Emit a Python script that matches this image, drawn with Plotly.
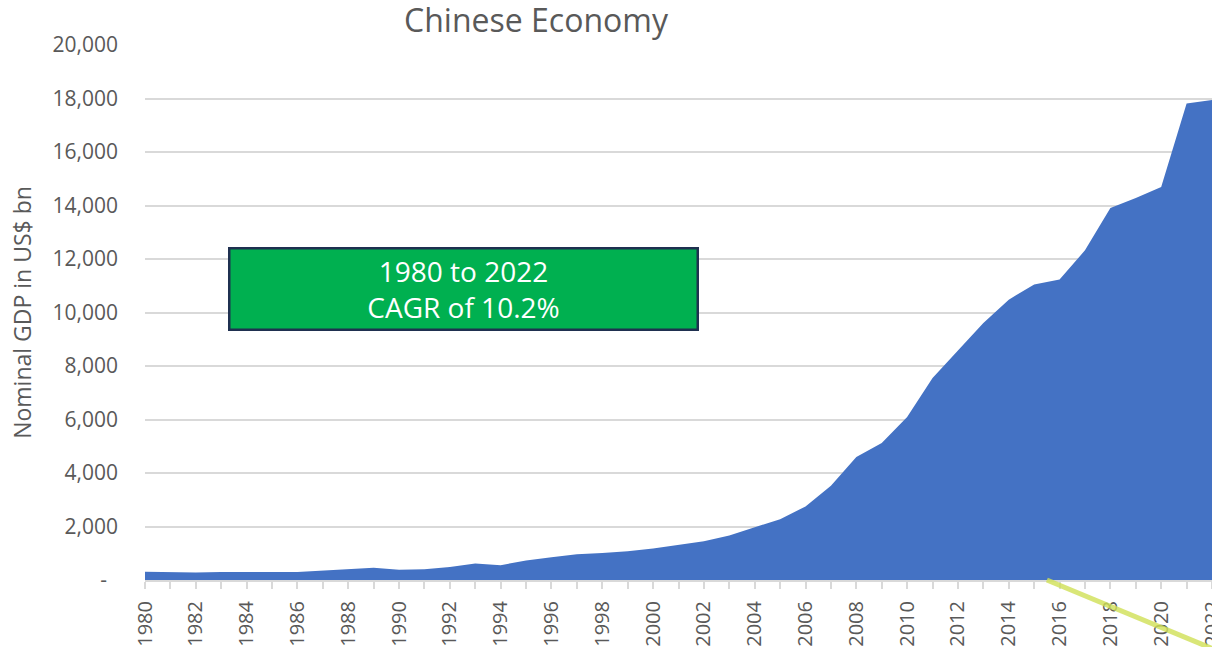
import plotly.graph_objects as go

# Nominal GDP, US$ bn
years = list(range(1980, 2023))
gdp = [306, 293, 280, 300, 310, 300, 295, 340, 404, 455,
       380, 400, 490, 615, 555, 730, 851, 963, 1012, 1075,
       1175, 1300, 1450, 1660, 1960, 2275, 2750, 3525, 4600, 5125,
       6090, 7550, 8580, 9605, 10480, 11050, 11230, 12325, 13910, 14285,
       14695, 17815, 17940]

y_ticks = list(range(0, 20001, 2000))
y_labels = ["-\u00a0\u00a0"] + [f"{v:,}" for v in y_ticks[1:]]

box_lines = ["1980 to 2022", "CAGR of 10.2%"]

# stray highlighter stroke crossing the lower-right corner
stroke_x = [2015.5, 2022.3]
stroke_y = [0.0, -0.134]

GREY = "#595959"
GRID = "#D9D9D9"
FONT = "Open Sans"

fig = go.Figure()
fig.add_trace(go.Scatter(
    x=years, y=gdp, mode="lines", fill="tozeroy",
    line=dict(color="#4472C4", width=0), fillcolor="#4472C4",
    hoverinfo="x+y", showlegend=False,
))

fig.add_shape(
    type="line", xref="x", yref="paper",
    x0=stroke_x[0], y0=stroke_y[0], x1=stroke_x[1], y1=stroke_y[1],
    line=dict(color="rgba(208,224,85,0.8)", width=5), layer="above",
)

fig.add_annotation(
    x=1992.54, y=10890, xref="x", yref="y",
    text="<br>".join(box_lines), showarrow=False,
    font=dict(family=FONT, size=28, color="white"),
    bgcolor="#00B050", bordercolor="#1F3050", borderwidth=2.5,
    borderpad=0, width=466, height=79, align="center", valign="middle",
)

fig.update_layout(
    width=1212, height=647,
    margin=dict(l=145, r=0, t=45, b=67, autoexpand=False),
    paper_bgcolor="white", plot_bgcolor="white",
    font=dict(family=FONT, color=GREY),
    title=dict(text="Chinese Economy", x=536 / 1212, xanchor="center",
               y=1 - 21 / 647, yanchor="middle",
               font=dict(family=FONT, size=32, color=GREY)),
)

fig.update_xaxes(
    range=[1980, 2022], tick0=1980, dtick=2, tickangle=-90,
    showgrid=False, zeroline=False, automargin=False,
    showline=True, linecolor=GRID, linewidth=2,
    ticks="outside", ticklen=7, tickcolor=GRID, tickwidth=1.5,
    ticklabelstandoff=4, ticklabeloverflow="allow",
    minor=dict(dtick=1, ticks="outside", ticklen=7, tickcolor=GRID, tickwidth=1.5),
    tickfont=dict(family=FONT, size=20, color=GREY),
)

fig.update_yaxes(
    range=[0, 20000], tickvals=y_ticks, ticktext=y_labels,
    showgrid=True, gridcolor=GRID, gridwidth=1.5, zeroline=False,
    ticks="", ticklabelstandoff=26, automargin=False,
    tickfont=dict(family=FONT, size=21, color=GREY),
    title=dict(text="Nominal GDP in US$ bn", standoff=14,
               font=dict(family=FONT, size=23, color=GREY)),
)

fig.write_html("out.html")
